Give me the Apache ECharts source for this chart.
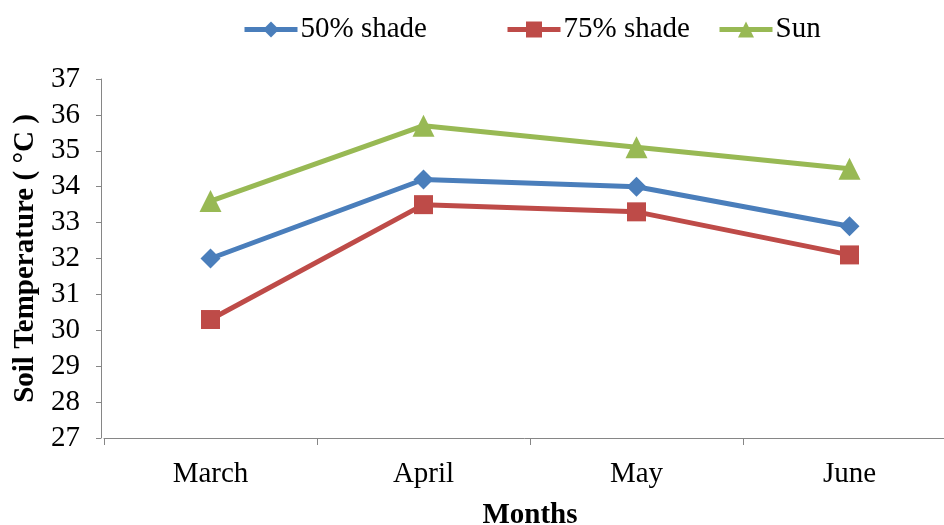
<!DOCTYPE html>
<html>
<head>
<meta charset="utf-8">
<script src="https://cdn.jsdelivr.net/npm/echarts@6/dist/echarts.min.js"></script>
<style>
  html, body { margin: 0; padding: 0; background: #ffffff; }
  #chart { width: 944px; height: 525px; }
</style>
</head>
<body>
<div id="chart"></div>
<script>
// Monthly soil temperature (°C) under different shade treatments
const months = ['March', 'April', 'May', 'June'];
const shade50 = [32.0, 34.2, 34.0, 32.9];
const shade75 = [30.3, 33.5, 33.3, 32.1];
const sun = [33.6, 35.7, 35.1, 34.5];
const seriesNames = ['50% shade', '75% shade', 'Sun'];

const FONT = '"Liberation Serif", "Times New Roman", serif';
const FONT_SIZE = 29;
const AXIS_GRAY = '#868686';
const COLORS = ['#4A7EBB', '#BE4B48', '#98B954'];

const chart = echarts.init(document.getElementById('chart'), null, { renderer: 'canvas' });

function legendAt(name, left) {
  return {
    data: [name],
    left: left,
    top: 10,
    itemWidth: 53,
    itemHeight: 20,
    itemGap: 0,
    lineStyle: { width: 5 },
    textStyle: { fontFamily: FONT, fontSize: FONT_SIZE, color: '#000', padding: [0, 0, 0, -2] }
  };
}

function lineSeries(name, data, color, symbol, size) {
  return {
    name: name,
    type: 'line',
    data: data,
    symbol: symbol,
    symbolSize: size,
    color: color,
    lineStyle: { width: 5, color: color },
    itemStyle: { color: color },
    animation: false
  };
}

chart.setOption({
  backgroundColor: '#ffffff',
  textStyle: { fontFamily: FONT },
  legend: [
    legendAt(seriesNames[0], 237),
    legendAt(seriesNames[1], 500),
    legendAt(seriesNames[2], 712)
  ],
  // the category axis runs slightly past the right edge of the canvas
  grid: { left: 104, top: 79, width: 852, height: 359, containLabel: false, outerBoundsMode: 'none' },
  xAxis: {
    type: 'category',
    data: months,
    boundaryGap: true,
    name: 'Months',
    nameLocation: 'middle',
    nameGap: 63,
    nameTextStyle: { fontFamily: FONT, fontSize: FONT_SIZE, fontWeight: 'bold', color: '#000' },
    axisLine: { lineStyle: { color: AXIS_GRAY, width: 1 } },
    axisTick: { show: true, length: 7, lineStyle: { color: AXIS_GRAY } },
    axisLabel: { margin: 22, fontFamily: FONT, fontSize: FONT_SIZE, color: '#000' },
    splitLine: { show: false }
  },
  yAxis: {
    type: 'value',
    min: 27,
    max: 37,
    interval: 1,
    offset: 3,
    name: 'Soil Temperature ( °C )',
    nameLocation: 'middle',
    nameGap: 56,
    nameTextStyle: { fontFamily: FONT, fontSize: FONT_SIZE, fontWeight: 'bold', color: '#000' },
    axisLine: { show: true, lineStyle: { color: AXIS_GRAY, width: 1 } },
    axisTick: { show: true, length: 5, lineStyle: { color: AXIS_GRAY } },
    axisLabel: { margin: 21, fontFamily: FONT, fontSize: FONT_SIZE, color: '#000' },
    splitLine: { show: false }
  },
  series: [
    lineSeries(seriesNames[0], shade50, COLORS[0], 'diamond', 20),
    lineSeries(seriesNames[1], shade75, COLORS[1], 'rect', 19),
    lineSeries(seriesNames[2], sun, COLORS[2], 'triangle', 22)
  ]
});
</script>
</body>
</html>
